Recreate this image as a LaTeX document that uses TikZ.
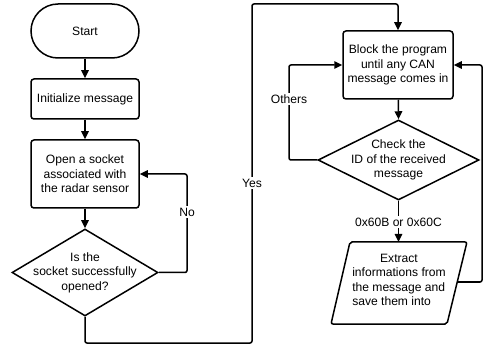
\documentclass[tikz,border=0pt]{standalone}
\usepackage{fontspec}
\setmainfont{Liberation Sans}
\usetikzlibrary{shapes.geometric,arrows.meta}
\begin{document}
\begin{tikzpicture}[x=1pt,y=-1pt,
  font=\fontsize{12.1}{14.6}\selectfont,
  line width=1.5pt,
  box/.style={draw,fill=white,rounded corners=3pt,align=center,inner sep=0pt},
  dia/.style={draw,fill=white,diamond,inner sep=0pt},
  arr/.style={-{Triangle[length=8pt,width=7.5pt]},rounded corners=2pt},
  lbl/.style={fill=white,inner sep=1.5pt}]
\useasboundingbox (0,0) rectangle (483,345);
% nodes
\node[box,rounded corners=27pt,minimum width=108pt,minimum height=54pt] (start) at (85,31) {Start};
\node[box,minimum width=108pt,minimum height=40pt] (init) at (85,99) {Initialize message};
\node[box,minimum width=108pt,minimum height=68pt] (open) at (85,174) {Open a socket\\associated with\\the radar sensor};
\node[dia,minimum width=146pt,minimum height=87pt] (d1) at (85,272.5) {};
\node[align=center] (d1t) at (d1) {Is the\\socket successfully\\opened?};
\node[box,minimum width=110pt,minimum height=68pt] (block) at (398,65) {Block the program\\until any CAN\\message comes in};
\node[dia,minimum width=161pt,minimum height=80pt] (d2) at (398.5,160) {};
\node[align=center] (d2t) at (d2) {Check the\\ID of the received\\message};
\coordinate (p1) at (350,242);
\coordinate (p2) at (467,242);
\coordinate (p3) at (447,324);
\coordinate (p4) at (331,324);
\draw[fill=white,rounded corners=2pt] (p1) -- (p2) -- (p3) -- (p4) -- cycle;
\node (ext) at (399,281) {\begin{tabular}{@{}l@{}}\multicolumn{1}{@{}c@{}}{Extract}\\informations from\\the message and\\save them into\end{tabular}};
\coordinate (ptop) at (398.5,242);
\coordinate (pright) at (457,282);
% connectors
\draw[arr] (start) -- (init);
\draw[arr] (init) -- (open);
\draw[arr] (open) -- (d1.north);
\coordinate (nox) at (187,272.5);
\draw[arr] (d1.east) -- (nox) |- (open.east);
\node[lbl] at (187,212) {No};
\coordinate (y1) at (85,343);
\coordinate (y2) at (252,343);
\coordinate (y3) at (252,4);
\draw[arr] (d1.south) -- (y1) -- (y2) -- (y3) -| (block.north);
\node[lbl] at (252,183) {Yes};
\draw[arr] (block) -- (d2.north);
\coordinate (ox) at (289,160);
\draw[arr] (d2.west) -- (ox) |- (block.west);
\node[lbl] at (289,99) {Others};
\draw[arr] (d2.south) -- (ptop);
\node[lbl] at (398.5,222) {0x60B or 0x60C};
\coordinate (rx) at (482,282);
\draw[arr] (pright) -- (rx) |- (block.east);
\end{tikzpicture}
\end{document}
